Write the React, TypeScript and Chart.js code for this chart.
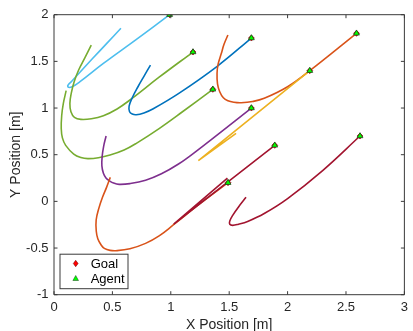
import React, { useEffect, useRef } from 'react';
import { Chart, registerables } from 'chart.js';

Chart.register(...registerables);

const FONT = '"Liberation Sans", Arial, Helvetica, sans-serif';
const TEXT = '#262626';

const xTicks = [0, 0.5, 1, 1.5, 2, 2.5, 3];
const yTicks = [-1, -0.5, 0, 0.5, 1, 1.5, 2];

const agentX = [0.99, 1.19, 1.69, 2.59, 2.19, 1.36, 1.69, 1.89, 1.49, 2.62];
const agentY = [2.0, 1.6, 1.75, 1.8, 1.4, 1.2, 1.0, 0.6, 0.2, 0.7];
const goalX = [0.99, 1.19, 1.69, 2.59, 2.19, 1.36, 1.69, 1.89, 1.49, 2.62];
const goalY = [2.0, 1.6, 1.75, 1.8, 1.4, 1.2, 1.0, 0.6, 0.2, 0.7];

const trajCyan: number[][] = [
  [0.573, 1.854], [0.45, 1.69], [0.33, 1.53], [0.22, 1.38], [0.15, 1.285], [0.118, 1.24],
  [0.125, 1.222], [0.155, 1.228], [0.22, 1.28], [0.42, 1.475], [0.7, 1.73], [0.99, 2.0],
];
const trajGreenUpper: number[][] = [
  [0.319, 1.675], [0.265, 1.54], [0.211, 1.407], [0.172, 1.28], [0.148, 1.16], [0.136, 1.05],
  [0.145, 0.96], [0.175, 0.9], [0.23, 0.878], [0.32, 0.885], [0.423, 0.918], [0.54, 0.99],
  [0.665, 1.1], [0.9, 1.33], [1.19, 1.6],
];
const trajGreenLower: number[][] = [
  [0.104, 1.186], [0.08, 1.05], [0.066, 0.92], [0.062, 0.78], [0.072, 0.68], [0.1, 0.6],
  [0.169, 0.507], [0.23, 0.47], [0.29, 0.458], [0.38, 0.467], [0.48, 0.496], [0.6, 0.55],
  [0.705, 0.622], [0.9, 0.78], [1.1, 0.96], [1.36, 1.2],
];
const trajBlue: number[][] = [
  [0.826, 1.46], [0.77, 1.34], [0.719, 1.228], [0.67, 1.11], [0.643, 1.02], [0.647, 0.96],
  [0.67, 0.935], [0.705, 0.928], [0.77, 0.948], [0.846, 0.99], [1.072, 1.16], [1.4, 1.45],
  [1.69, 1.75],
];
const trajOrangeUpper: number[][] = [
  [1.489, 1.782], [1.455, 1.68], [1.433, 1.586], [1.405, 1.47], [1.396, 1.372], [1.4, 1.26],
  [1.419, 1.175], [1.45, 1.11], [1.489, 1.078], [1.54, 1.062], [1.602, 1.057], [1.7, 1.07],
  [1.8, 1.104], [2.0, 1.228], [2.19, 1.4], [2.59, 1.8],
];
const trajYellow: number[][] = [
  [1.559, 0.729], [1.236, 0.436], [2.19, 1.4],
];
const trajPurple: number[][] = [
  [0.446, 0.7], [0.425, 0.59], [0.412, 0.478], [0.41, 0.38], [0.423, 0.3], [0.445, 0.25],
  [0.474, 0.221], [0.51, 0.196], [0.558, 0.182], [0.65, 0.19], [0.784, 0.226], [0.92, 0.295],
  [1.066, 0.4], [1.2, 0.52], [1.69, 1.0],
];
const trajOrangeLower: number[][] = [
  [0.482, 0.257], [0.45, 0.15], [0.417, 0.05], [0.385, -0.07], [0.361, -0.2], [0.362, -0.32],
  [0.375, -0.4], [0.405, -0.47], [0.431, -0.504], [0.48, -0.525], [0.53, -0.529], [0.65, -0.508],
  [0.784, -0.45], [0.9, -0.37], [1.024, -0.25], [1.25, -0.025], [1.49, 0.2],
];
const trajRedA: number[][] = [
  [1.485, 0.25], [1.025, -0.243], [1.89, 0.6],
];
const trajRedB: number[][] = [
  [1.644, 0.043], [1.58, -0.06], [1.53, -0.15], [1.505, -0.21], [1.505, -0.245], [1.53, -0.257],
  [1.58, -0.245], [1.658, -0.215], [1.8, -0.13], [2.0, 0.03], [2.3, 0.33], [2.62, 0.7],
];

const C_CYAN = '#4DBEEE';
const C_GREEN = '#77AC30';
const C_BLUE = '#0072BD';
const C_ORANGE = '#D95319';
const C_YELLOW = '#EDB120';
const C_PURPLE = '#7E2F8E';
const C_RED = '#A2142F';

const toPts = (arr: number[][]) => arr.map(([x, y]) => ({ x, y }));

const framePlugin = {
  id: 'frame',
  afterDraw(chart: any) {
    const { ctx, chartArea: a, scales } = chart;
    const xs = scales.x;
    const ys = scales.y;
    ctx.save();
    ctx.strokeStyle = '#3a3a3a';
    ctx.lineWidth = 1;
    ctx.beginPath();
    ctx.rect(a.left, a.top, a.right - a.left, a.bottom - a.top);
    ctx.stroke();
    const tl = 3.5;
    ctx.beginPath();
    for (const v of xTicks) {
      const px = xs.getPixelForValue(v);
      ctx.moveTo(px, a.bottom);
      ctx.lineTo(px, a.bottom - tl);
      ctx.moveTo(px, a.top);
      ctx.lineTo(px, a.top + tl);
    }
    for (const v of yTicks) {
      const py = ys.getPixelForValue(v);
      ctx.moveTo(a.left, py);
      ctx.lineTo(a.left + tl, py);
      ctx.moveTo(a.right, py);
      ctx.lineTo(a.right - tl, py);
    }
    ctx.stroke();

    // legend
    const lx = a.left + 6;
    const ly = a.bottom - 40.5;
    const lw = 68;
    const lh = 34.5;
    ctx.fillStyle = '#ffffff';
    ctx.fillRect(lx, ly, lw, lh);
    ctx.strokeStyle = '#3a3a3a';
    ctx.strokeRect(lx, ly, lw, lh);

    const mx = lx + 15.7;
    const y1 = ly + 9.3;
    const y2 = ly + 24.3;
    ctx.fillStyle = '#FF0000';
    ctx.strokeStyle = '#5a0000';
    ctx.lineWidth = 0.5;
    ctx.beginPath();
    ctx.moveTo(mx, y1 - 3.2);
    ctx.lineTo(mx + 2.4, y1);
    ctx.lineTo(mx, y1 + 3.2);
    ctx.lineTo(mx - 2.4, y1);
    ctx.closePath();
    ctx.fill();
    ctx.stroke();
    ctx.fillStyle = '#00FF00';
    ctx.strokeStyle = '#1a3a1a';
    ctx.beginPath();
    ctx.moveTo(mx, y2 - 3);
    ctx.lineTo(mx + 2.8, y2 + 2);
    ctx.lineTo(mx - 2.8, y2 + 2);
    ctx.closePath();
    ctx.fill();
    ctx.stroke();

    ctx.fillStyle = '#000000';
    ctx.font = `13px ${FONT}`;
    ctx.textAlign = 'left';
    ctx.textBaseline = 'middle';
    ctx.fillText('Goal', lx + 30.7, y1 + 0.5);
    ctx.fillText('Agent', lx + 30.7, y2 + 0.5);
    ctx.restore();
  },
};

export default function App() {
  const ref = useRef<HTMLCanvasElement | null>(null);

  useEffect(() => {
    if (!ref.current) return;
    const line = (data: number[][], color: string, order: number, tension = 0.4) => ({
      data: toPts(data),
      showLine: true,
      borderColor: color,
      backgroundColor: color,
      borderWidth: 1.6,
      pointRadius: 0,
      tension,
      order,
    });
    const chart = new Chart(ref.current, {
      type: 'scatter',
      data: {
        datasets: [
          {
            label: 'Agent',
            data: agentX.map((x, i) => ({ x, y: agentY[i] })),
            pointStyle: 'triangle',
            pointRadius: 3.4,
            backgroundColor: '#00FF00',
            borderColor: '#1a3a1a',
            borderWidth: 0.7,
            showLine: false,
            order: 0,
          } as any,
          {
            label: 'Goal',
            data: goalX.map((x, i) => ({ x, y: goalY[i] })),
            pointStyle: 'rectRot',
            pointRadius: 3,
            backgroundColor: '#FF0000',
            borderColor: '#5a0000',
            borderWidth: 0.5,
            showLine: false,
            order: 1,
          } as any,
          line(trajRedA, C_RED, 2, 0),
          line(trajRedB, C_RED, 3),
          line(trajYellow, C_YELLOW, 4, 0),
          line(trajOrangeLower, C_ORANGE, 5),
          line(trajPurple, C_PURPLE, 6),
          line(trajOrangeUpper, C_ORANGE, 7),
          line(trajBlue, C_BLUE, 8),
          line(trajGreenLower, C_GREEN, 9),
          line(trajGreenUpper, C_GREEN, 10),
          line(trajCyan, C_CYAN, 11),
        ],
      },
      options: {
        animation: false,
        responsive: false,
        events: [],
        layout: { padding: { top: 14.7, right: 4.3, left: 0, bottom: 0 } },
        plugins: {
          legend: { display: false },
          tooltip: { enabled: false },
        },
        scales: {
          x: {
            type: 'linear',
            min: 0,
            max: 3,
            afterBuildTicks: (s: any) => {
              s.ticks = xTicks.map((v) => ({ value: v }));
            },
            afterFit: (s: any) => {
              s.height = 36.3;
            },
            grid: { display: false, drawTicks: false },
            border: { display: false },
            ticks: {
              autoSkip: false,
              maxRotation: 0,
              padding: 5,
              color: TEXT,
              font: { family: FONT, size: 13 },
              callback: (v: any) => String(v),
            },
            title: {
              display: true,
              text: 'X Position [m]',
              color: TEXT,
              font: { family: FONT, size: 14, lineHeight: 1 },
              padding: { top: 0, bottom: -1.5 },
            },
          },
          y: {
            type: 'linear',
            min: -1,
            max: 2,
            afterBuildTicks: (s: any) => {
              s.ticks = yTicks.map((v) => ({ value: v }));
            },
            afterFit: (s: any) => {
              s.width = 54;
            },
            grid: { display: false, drawTicks: false },
            border: { display: false },
            ticks: {
              autoSkip: false,
              padding: 5.5,
              color: TEXT,
              font: { family: FONT, size: 13 },
              callback: (v: any) => String(v),
            },
            title: {
              display: true,
              text: 'Y Position [m]',
              color: TEXT,
              font: { family: FONT, size: 14, lineHeight: 1.2 },
              padding: { top: 7.3, bottom: 0 },
            },
          },
        },
      },
      plugins: [framePlugin],
    } as any);
    return () => chart.destroy();
  }, []);

  return (
    <div style={{ position: 'fixed', left: 0, top: 0, width: 413, height: 331, background: '#fff' }}>
      <canvas ref={ref} width={413} height={331} style={{ width: 413, height: 331, display: 'block' }} />
    </div>
  );
}
